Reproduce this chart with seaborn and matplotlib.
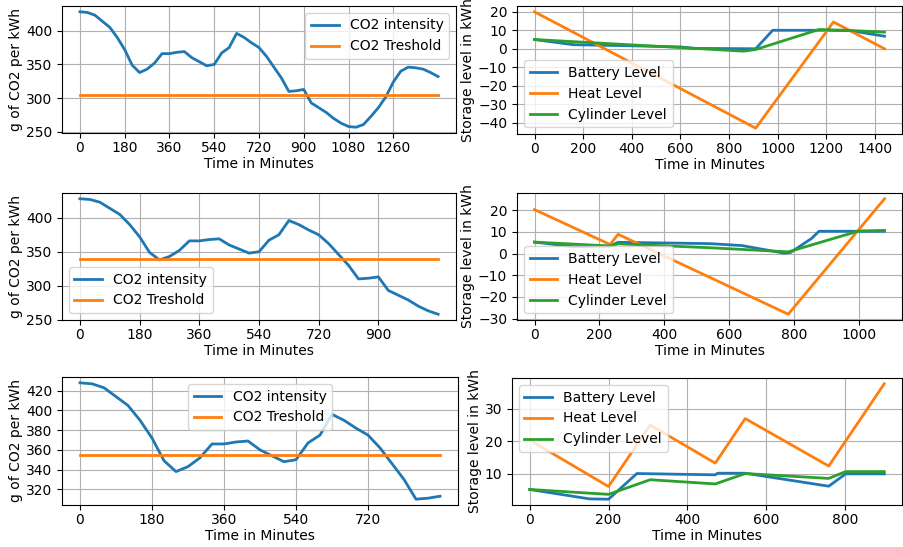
import numpy as np
import matplotlib
matplotlib.use("Agg")
import matplotlib.pyplot as plt
from matplotlib.ticker import MultipleLocator
import seaborn as sns

# CO2 intensity every 30 minutes over one day
co2 = [428, 427, 423, 414, 405, 390, 372, 349, 338, 343, 352, 366, 366, 368, 369,
       360, 354, 348, 350, 367, 375, 396, 390, 382, 375, 362, 346, 330, 310, 311,
       313, 293, 286, 279, 270, 263, 258, 257, 261, 273, 286, 302, 324, 340, 346,
       345, 343, 338, 332]
co2_time = list(range(0, 1441, 30))

# number of points and threshold for each scenario
n_points = [49, 37, 31]
thresholds = [305, 340, 355]

# storage levels (time, value)
bat_t = [[0, 160, 400, 600, 660, 910, 980, 1200, 1300, 1440],
         [0, 120, 233, 258, 540, 640, 770, 790, 855, 878, 1080],
         [0, 152, 200, 272, 471, 477, 547, 759, 802, 900]]
bat_v = [[5, 2.2, 1.6, 1.0, 0.2, 0, 10, 10, 9.8, 6.8],
         [5.3, 3.2, 3.5, 5.2, 4.6, 3.7, 0.2, 0.5, 7.0, 10.3, 10.3],
         [5.2, 2.3, 2.2, 10.1, 9.7, 10.2, 10.2, 6.2, 10, 10]]
heat_t = [[0, 910, 1230, 1440],
          [0, 233, 258, 783, 1080],
          [0, 200, 306, 471, 547, 759, 900]]
heat_v = [[20, -43, 14.5, 0],
          [20.3, 4.2, 8.9, -28, 25.3],
          [20.4, 6.1, 25, 13.3, 27, 12.4, 37.7]]
cyl_t = [[0, 660, 860, 910, 1170, 1280, 1440],
         [0, 233, 258, 540, 783, 1000, 1080],
         [0, 200, 306, 471, 547, 759, 802, 900]]
cyl_v = [[5, 0.2, -1.3, -0.4, 10.4, 10, 9],
         [5.3, 3.5, 4.5, 2.7, 0.8, 10.4, 10.7],
         [5.2, 3.7, 8.2, 6.9, 10.1, 8.6, 10.7, 10.7]]

# y tick spacing per panel
co2_step = [50, 50, 20]
storage_step = [10, 10, 10]

plt.rcParams['font.size'] = 10
plt.rcParams['xtick.major.pad'] = 2

fig, axes = plt.subplots(3, 2, figsize=(9.04, 5.47), dpi=100)

# axes boxes in pixels: x0, x1, y0, y1 (from top)
boxes = [[(62, 456, 6, 133), (517, 902, 6, 134)],
         [(62, 456, 193, 320), (517, 902, 193, 320)],
         [(62, 458, 377, 505), (512, 902, 378, 505)]]
left_loc = ['upper right', 'lower left', 'upper center']
right_loc = ['lower left', 'lower left', 'upper left']

for i in range(3):
    ax1, ax2 = axes[i]
    n = n_points[i]
    t = co2_time[:n]
    sns.lineplot(x=t, y=co2[:n], ax=ax1, color='C0', linewidth=2, label='CO2 intensity')
    sns.lineplot(x=t, y=[thresholds[i]] * n, ax=ax1, color='C1', linewidth=2, label='CO2 Treshold')
    ax1.set_xticks(np.arange(0, t[-1], 180))
    ax1.yaxis.set_major_locator(MultipleLocator(co2_step[i]))
    ax1.set_xlabel('Time in Minutes', labelpad=2)
    ax1.set_ylabel('g of CO2 per kWh', labelpad=2)
    ax1.grid(True)
    ax1.legend(loc=left_loc[i])

    sns.lineplot(x=bat_t[i], y=bat_v[i], ax=ax2, color='C0', linewidth=2, label='Battery Level')
    sns.lineplot(x=heat_t[i], y=heat_v[i], ax=ax2, color='C1', linewidth=2, label='Heat Level')
    sns.lineplot(x=cyl_t[i], y=cyl_v[i], ax=ax2, color='C2', linewidth=2, label='Cylinder Level')
    ax2.yaxis.set_major_locator(MultipleLocator(storage_step[i]))
    ax2.set_xlabel('Time in Minutes', labelpad=2)
    ax2.set_ylabel('Storage level in kWh', labelpad=2)
    ax2.grid(True)
    ax2.legend(loc=right_loc[i])

    for ax, (x0, x1, y0, y1) in zip((ax1, ax2), boxes[i]):
        ax.set_position([x0 / 904, 1 - y1 / 547, (x1 - x0) / 904, (y1 - y0) / 547])

plt.savefig('out.png')
